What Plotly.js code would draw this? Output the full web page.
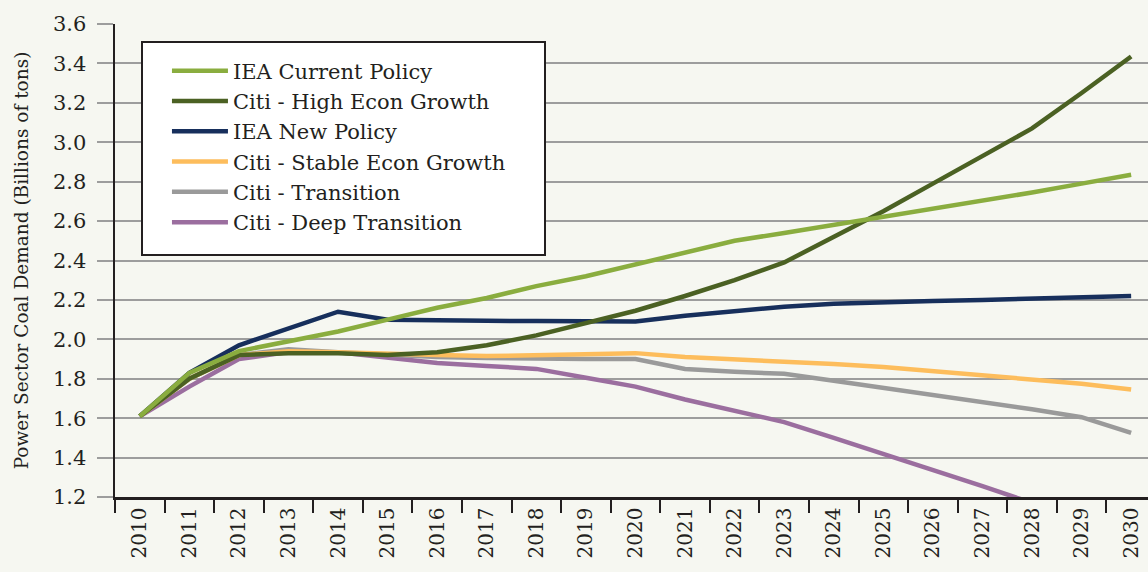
<!DOCTYPE html>
<html>
<head>
<meta charset="utf-8">
<script src="https://cdn.plot.ly/plotly-3.0.1.min.js"></script>
<style>
  html, body { margin: 0; padding: 0; background: #f6f7f1; }
  #chart { width: 1148px; height: 572px; }
</style>
</head>
<body>
<div id="chart"></div>
<script>
const years = ['2010','2011','2012','2013','2014','2015','2016','2017','2018','2019','2020',
               '2021','2022','2023','2024','2025','2026','2027','2028','2029','2030'];

const ieaCurrentPolicy = [1.61, 1.83, 1.94, 1.99, 2.04, 2.10, 2.16, 2.21, 2.27, 2.32, 2.38,
                          2.44, 2.50, 2.54, 2.58, 2.62, 2.66, 2.70, 2.745, 2.79, 2.835];
const citiHighGrowth   = [1.61, 1.80, 1.92, 1.93, 1.93, 1.92, 1.935, 1.97, 2.02, 2.08, 2.145,
                          2.22, 2.30, 2.39, 2.52, 2.65, 2.79, 2.93, 3.07, 3.25, 3.435];
const ieaNewPolicy     = [1.61, 1.83, 1.97, 2.055, 2.14, 2.10, 2.095, 2.094, 2.093, 2.092, 2.09,
                          2.12, 2.145, 2.165, 2.18, 2.19, 2.195, 2.20, 2.205, 2.21, 2.22];
const citiStableGrowth = [1.61, 1.80, 1.92, 1.94, 1.935, 1.925, 1.92, 1.915, 1.92, 1.925, 1.93,
                          1.91, 1.90, 1.89, 1.875, 1.86, 1.84, 1.82, 1.80, 1.775, 1.745];
const citiTransition   = [1.61, 1.80, 1.92, 1.95, 1.935, 1.92, 1.91, 1.905, 1.90, 1.90, 1.90,
                          1.85, 1.835, 1.825, 1.79, 1.755, 1.72, 1.68, 1.645, 1.605, 1.525];
const citiDeepTransition = [1.61, 1.76, 1.90, 1.935, 1.935, 1.905, 1.88, 1.865, 1.85, 1.805, 1.76,
                          1.695, 1.635, 1.58, 1.50, 1.42, 1.34, 1.255, 1.17];

const seriesNames = ['IEA Current Policy', 'Citi - High Econ Growth', 'IEA New Policy',
                     'Citi - Stable Econ Growth', 'Citi - Transition', 'Citi - Deep Transition'];
const seriesValues = [ieaCurrentPolicy, citiHighGrowth, ieaNewPolicy,
                      citiStableGrowth, citiTransition, citiDeepTransition];
const seriesColors = ['#8aad3f', '#4b6123', '#172f5c', '#fdbd5c', '#9a9a9a', '#9b6e9f'];

const FONT = '"DejaVu Serif", "Liberation Serif", serif';
const TEXT = '#231f20';

// draw in reverse so the first legend series is on top
const traces = [];
for (let i = seriesNames.length - 1; i >= 0; i--) {
  traces.push({
    type: 'scatter',
    mode: 'lines',
    name: seriesNames[i],
    x: years.slice(0, seriesValues[i].length),
    y: seriesValues[i],
    line: { color: seriesColors[i], width: 4.5 },
    hoverinfo: 'skip'
  });
}

const layout = {
  width: 1148,
  height: 572,
  paper_bgcolor: '#f6f7f1',
  plot_bgcolor: '#f6f7f1',
  margin: { l: 115, r: 0, t: 24, b: 75, pad: 0 },
  font: { family: FONT, color: TEXT },
  showlegend: true,
  legend: {
    x: 0.0503, y: 0.944, xanchor: 'left', yanchor: 'top',
    bgcolor: 'rgba(0,0,0,0)', borderwidth: 0,
    traceorder: 'reversed',
    font: { family: FONT, size: 21, color: TEXT },
    itemwidth: 56
  },
  shapes: [{
    type: 'rect', xref: 'paper', yref: 'paper', layer: 'above',
    x0: (142 - 115) / 1033, x1: (545 - 115) / 1033,
    y0: (497 - 255) / 473, y1: (497 - 42) / 473,
    fillcolor: '#ffffff', line: { color: '#231f20', width: 2 }
  }],
  xaxis: {
    type: 'category',
    range: [-0.5, 20.34],
    showgrid: false,
    showline: true, linecolor: TEXT, linewidth: 2.5,
    ticks: 'outside', tickson: 'boundaries', ticklen: 13, tickwidth: 2, tickcolor: TEXT,
    tickangle: -90,
    tickfont: { family: FONT, size: 20, color: TEXT },
    fixedrange: true
  },
  yaxis: {
    range: [1.2, 3.6],
    dtick: 0.2, tick0: 1.2,
    tickformat: '.1f',
    showgrid: true, gridcolor: '#9d9d9d', gridwidth: 2,
    zeroline: false,
    showline: true, linecolor: TEXT, linewidth: 2.5,
    ticks: 'outside', ticklen: 16, tickwidth: 2, tickcolor: '#9d9d9d',
    ticklabelstandoff: 6,
    tickfont: { family: FONT, size: 21, color: TEXT },
    title: { text: 'Power Sector Coal Demand (Billions of tons)', standoff: 20,
             font: { family: FONT, size: 18.5, color: TEXT } },
    fixedrange: true
  }
};

Plotly.newPlot('chart', traces, layout, { displayModeBar: false, staticPlot: true });
</script>
</body>
</html>
